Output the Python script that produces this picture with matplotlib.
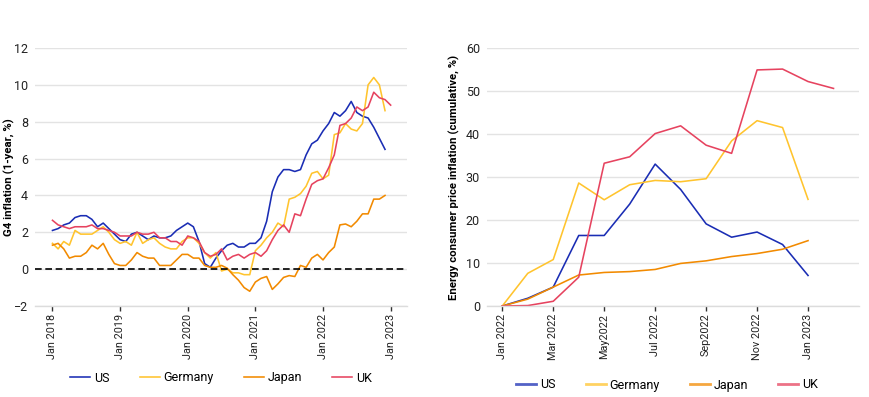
import matplotlib
matplotlib.use("Agg")
import matplotlib.pyplot as plt

plt.rcParams['font.family'] = ['Roboto', 'DejaVu Sans']

# Left panel: G4 inflation, monthly from Jan 2018
g4_tick_labels = ["Jan 2018", "Jan 2019", "Jan 2020", "Jan 2021", "Jan 2022", "Jan 2023"]
us_g4 = [2.1, 2.2, 2.4, 2.5, 2.8, 2.9, 2.9, 2.7, 2.3, 2.5, 2.2, 1.9,
         1.6, 1.5, 1.9, 2.0, 1.8, 1.6, 1.8, 1.7, 1.7, 1.8, 2.1, 2.3,
         2.5, 2.3, 1.5, 0.3, 0.1, 0.6, 1.0, 1.3, 1.4, 1.2, 1.2, 1.4,
         1.4, 1.7, 2.6, 4.2, 5.0, 5.4, 5.4, 5.3, 5.4, 6.2, 6.8, 7.0,
         7.5, 7.9, 8.5, 8.3, 8.6, 9.1, 8.5, 8.3, 8.2, 7.7, 7.1, 6.5]
germany_g4 = [1.4, 1.1, 1.5, 1.3, 2.1, 1.9, 1.9, 1.9, 2.1, 2.3, 2.0, 1.6,
              1.4, 1.5, 1.3, 2.0, 1.4, 1.6, 1.7, 1.4, 1.2, 1.1, 1.1, 1.5,
              1.7, 1.7, 1.4, 0.9, 0.6, 0.9, -0.1, 0.0, -0.2, -0.2, -0.3, -0.3,
              1.0, 1.3, 1.7, 2.0, 2.5, 2.3, 3.8, 3.9, 4.1, 4.5, 5.2, 5.3,
              4.9, 5.1, 7.3, 7.4, 7.9, 7.6, 7.5, 7.9, 10.0, 10.4, 10.0, 8.6]
japan_g4 = [1.3, 1.4, 1.1, 0.6, 0.7, 0.7, 0.9, 1.3, 1.1, 1.4, 0.8, 0.3,
            0.2, 0.2, 0.5, 0.9, 0.7, 0.6, 0.6, 0.2, 0.2, 0.2, 0.5, 0.8,
            0.8, 0.6, 0.6, 0.2, 0.1, 0.1, 0.2, 0.05, -0.3, -0.6, -1.0, -1.2,
            -0.7, -0.5, -0.4, -1.1, -0.8, -0.45, -0.35, -0.4, 0.2, 0.1, 0.6, 0.8,
            0.5, 0.9, 1.2, 2.4, 2.45, 2.3, 2.6, 3.0, 3.0, 3.8, 3.8, 4.0]
uk_g4 = [2.65, 2.4, 2.3, 2.2, 2.3, 2.3, 2.3, 2.4, 2.2, 2.2, 2.1, 2.0,
         1.8, 1.8, 1.8, 2.0, 1.9, 1.9, 2.0, 1.7, 1.7, 1.5, 1.5, 1.3,
         1.8, 1.7, 1.5, 0.9, 0.7, 0.8, 1.1, 0.5, 0.7, 0.8, 0.6, 0.8,
         0.9, 0.7, 1.0, 1.6, 2.1, 2.4, 2.0, 3.0, 2.9, 3.8, 4.6, 4.8,
         4.9, 5.5, 6.2, 7.8, 7.9, 8.2, 8.8, 8.6, 8.8, 9.6, 9.3, 9.2,
         8.9]

# Right panel: cumulative energy CPI, monthly from Jan 2022
energy_tick_labels = ["Jan 2022", "Mar 2022", "May2022", "Jul 2022",
                      "Sep2022", "Nov 2022", "Jan 2023"]
us_energy = [0, 1.8, 4.4, 16.4, 16.4, 23.7, 33.0, 27.1, 19.1, 16.0, 17.2, 14.3, 7.1]
germany_energy = [0, 7.6, 10.8, 28.6, 24.7, 28.2, 29.2, 28.9, 29.6, 38.4, 43.1, 41.5, 24.8]
japan_energy = [0, 1.6, 4.4, 7.2, 7.8, 8.0, 8.5, 9.9, 10.5, 11.5, 12.2, 13.2, 15.2]
uk_energy = [0, 0.1, 1.1, 6.7, 33.2, 34.7, 40.1, 41.9, 37.4, 35.5, 54.9, 55.1, 52.2, 50.6]

countries = ["US", "Germany", "Japan", "UK"]
colors = ["#1a2db4", "#ffc42e", "#f28a00", "#e6435f"]

fig = plt.figure(figsize=(8.7, 3.97), dpi=100)
ax1 = fig.add_axes([35 / 870, 1 - 306 / 397, 372 / 870, 258 / 397])
ax2 = fig.add_axes([487 / 870, 1 - 306 / 397, 372 / 870, 258 / 397])


def style_axis(ax):
    for side in ["top", "right", "left"]:
        ax.spines[side].set_visible(False)
    ax.spines["bottom"].set_color("#dcdcdc")
    ax.spines["bottom"].set_linewidth(1.0)
    ax.grid(axis="y", color="#e3e3e3", linewidth=1.0)
    ax.set_axisbelow(True)
    ax.tick_params(axis="y", length=0, pad=5, labelsize=9, labelcolor="#222222")
    ax.tick_params(axis="x", length=3.5, width=1.0, color="#333333",
                   pad=2, labelsize=7.8, labelcolor="#222222", labelrotation=90)


# left chart
series_g4 = [us_g4, germany_g4, japan_g4, uk_g4]
handles = []
for name, vals, c in zip(countries, series_g4, colors):
    h, = ax1.plot(range(len(vals)), vals, color=c, lw=1.15, label=name)
    handles.append(h)
ax1.axhline(0, color="black", lw=1.2, linestyle=(0, (4, 2.2)))
ax1.set_ylim(-2, 12)
ax1.set_yticks(range(-2, 13, 2))
ax1.set_xlim(-3.1, 62.9)
ax1.set_xticks(range(0, 61, 12))
ax1.set_xticklabels(g4_tick_labels)
style_axis(ax1)
ax1.set_ylabel("G4 inflation (1-year, %)", fontsize=8.2, fontweight="bold")
ax1.yaxis.set_label_coords(15 / 870, 1 - 177 / 397, transform=fig.transFigure)
fig.legend(handles=handles, loc="center", bbox_to_anchor=(221 / 870, 1 - 378 / 397),
           ncol=4, frameon=False, fontsize=9, handlelength=1.6,
           handletextpad=0.3, columnspacing=2.4)

# right chart
series_energy = [us_energy, germany_energy, japan_energy, uk_energy]
handles2 = []
for name, vals, c in zip(countries, series_energy, colors):
    h, = ax2.plot(range(len(vals)), vals, color=c, lw=1.15, label=name)
    handles2.append(h)
ax2.set_ylim(0, 60)
ax2.set_yticks(range(0, 61, 10))
ax2.set_xlim(-0.6, 14.0)
ax2.set_xticks(range(0, 13, 2))
ax2.set_xticklabels(energy_tick_labels)
style_axis(ax2)
ax2.set_ylabel("Energy consumer price inflation (cumulative, %)", fontsize=8.2,
               fontweight="bold")
ax2.yaxis.set_label_coords(460 / 870, 1 - 177 / 397, transform=fig.transFigure)
leg2 = fig.legend(handles=handles2, loc="center", bbox_to_anchor=(667 / 870, 1 - 385 / 397),
                  ncol=4, frameon=False, fontsize=9, handlelength=1.6,
                  handletextpad=0.3, columnspacing=2.4)
for line in leg2.get_lines():
    line.set_alpha(0.75)
    line.set_linewidth(2.0)

fig.savefig("out.png", dpi=100)
